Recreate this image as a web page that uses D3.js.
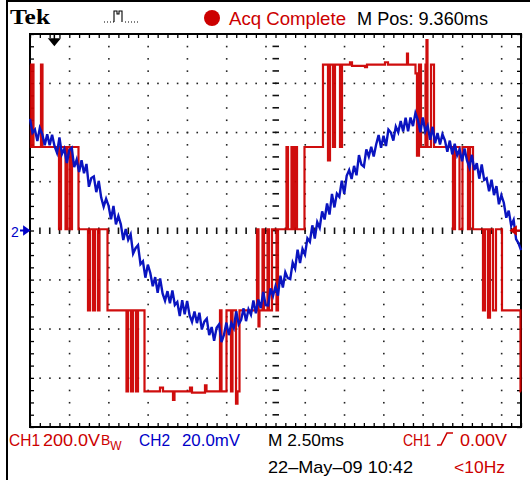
<!DOCTYPE html>
<html><head><meta charset="utf-8">
<script src="https://cdn.jsdelivr.net/npm/d3@7"></script>
<style>body{margin:0;background:#fff}svg{display:block}</style>
</head><body>
<svg id="c" width="532" height="480"></svg>
<script>
// ---------------- data ----------------
const timeDomain = [0, 25];          // ms, 2.50 ms/div, 10 div
const ch1Domain = [-800, 800];       // V, 200 V/div, 8 div
const ch2Domain = [-80, 80];         // mV, 20 mV/div, 8 div

// CH1 (red) multilevel inverter voltage: time (ms) / volts, step-after
const ch1Time = [0,0.051,0.102,0.178,0.560,0.636,1.477,1.578,1.808,1.909,2.037,2.138,2.469,2.953,3.055,3.208,3.310,3.462,3.539,3.946,4.913,4.990,5.143,5.244,5.397,5.499,5.830,6.619,6.772,7.281,7.357,8.147,8.248,8.910,8.987,9.674,9.751,10.005,10.234,10.311,10.489,10.565,10.667,11.558,11.634,11.685,11.838,11.914,12.093,12.169,12.322,12.551,12.627,13.060,13.136,13.314,13.391,13.493,13.595,13.976,14.918,15.173,15.275,15.427,15.529,15.784,15.886,16.293,16.395,17.057,17.159,18.075,18.228,19.195,19.246,19.628,19.704,19.806,19.908,20.137,20.188,20.239,20.417,20.570,21.537,21.639,21.868,22.021,22.301,22.403,22.556,23.065,23.167,23.320,23.422,23.575,23.727,24.032,24.974,25.0];
const ch1Volts = [675,340,675,340,675,340,5,340,5,340,5,340,5,-325,5,-325,5,-325,5,-325,-655,-325,-655,-325,-655,-325,-655,-640,-655,-690,-655,-640,-660,-630,-655,-325,-655,-325,-655,-325,-705,-655,-325,5,-390,-325,5,-325,5,-325,5,-325,5,340,5,340,5,340,5,340,675,285,675,340,675,340,675,685,670,665,675,685,675,720,675,640,305,675,340,675,775,340,675,340,5,340,5,340,5,340,5,-325,5,-355,5,-325,5,-325,-655,-655];

// CH2 (blue) current probe signal, mV, one sample every 0.125 ms
const ch2SampleMs = 0.125;
const ch2mV = [
45.5,39.8,41.1,36.4, 41.7,39.2,34.7,39.2, 34.7,39.0,34.3,31.6, 37.9,31.1,33.3,27.5,
32.7,33.7,25.8,28.8, 23.8,28.6,23.3,27.1, 17.8,21.4,22.0,15.6, 20.2,13.4,9.7,12.9,
10.1,4.6,10.0,2.5, 5.9,2.5,-3.9,0.6, -3.8,-1.6,-9.4,-7.2, -6,-13.7,-12.5,-19.2,
-13.9,-17.3,-22.7,-19.0, -25.4,-19.5,-25.6,-28.6, -24.7,-29.6,-24.4,-30.3, -29.1,-34.8,-28.4,-34.1,
-28.7,-34.5,-37.2,-33.0, -37.7,-33.5,-40.3,-37.1, -35.9,-42.6,-39.3,-44.9, -39.6,-38.2,-45.4,-42.5,
-37.5,-42.6,-37.7,-39.8, -32.9,-38.2,-36.4,-31.7, -36.9,-32.1,-34.3,-28.5, -33.7,-28.1,-31.6,-25.0,
-30.4,-30.5,-23.6,-26.6, -22.7,-26.5,-18.4,-23.2, -17,-19.4,-19.8,-13.1, -15.5,-7.8,-13.2,-7.5,
-9.8,-3.2,-4.6,2.1, -3.3,3.4,1.1,7.8, 4.5,11.0,6.5,14.9, 9.4,15.0,13.7,20.3,
14.9,22.3,24.6,21.0, 26.3,22.5,30.7,26.8, 26.0,33.0,30.1,34.1, 30.1,35.0,38.9,33.7,
38.6,34.4,41.1,39.9, 36.6,42.3,40.0,44.6, 40.3,45.9,40.4,46.0, 42.5,47.8,45.0,40.0,
46.0,40.3,42.6,36.9, 42.2,35.5,39.7,35.0, 39.2,36.7,32.1,36.6, 31.0,35.3,30.6,32.9,
28.2,33.4,28.5,25.7, 30.8,24.6,27.4,21.1, 26.9,20.6,21.3,16.0, 20.7,14.4,18.1,10.7,
14.4,11.3,5.2,8.1, 2,4.3,-3.5,-5.2, -8
];

const topTexts = ["Tek", "Acq Complete", "M Pos: 9.360ms"];
const bottomTexts = ["CH1", "200.0V", "CH2", "20.0mV", "M 2.50ms", "CH1", "0.00V", "22\u2013May\u201309 10:42", "<10Hz"];

// ---------------- drawing ----------------
const RED = "#cc0000", BLUE = "#0000c8", TRACEBLUE = "#0a14c0";
const svg = d3.select("#c");
const L = 30, R = 521, T = 34, B = 427;
const x = d3.scaleLinear(timeDomain, [L, R]);
const y1 = d3.scaleLinear(ch1Domain, [B, T]);
const y2 = d3.scaleLinear(ch2Domain, [B, T]);
const minorX = x.ticks(50), majorX = x.ticks(10);
const minorY = y2.ticks(40), majorY = y2.ticks(8);
const cx = x(12.5), cy = y2(0);

// outer frame
svg.append("line").attr("x1",7).attr("x2",7).attr("y1",0).attr("y2",480).attr("stroke","#000").attr("stroke-width",2);
svg.append("line").attr("x1",6).attr("x2",530).attr("y1",1).attr("y2",1).attr("stroke","#000").attr("stroke-width",2);

const g = svg.append("g");
// dotted grid
majorX.filter(v => v > 0 && v < 25 && v !== 12.5).forEach(v => {
  g.selectAll(null).data(minorY).enter().append("rect")
    .attr("x", x(v) - 0.5).attr("y", d => y2(d) - 0.5).attr("width", 1.6).attr("height", 1.6).attr("fill", "#222");
});
majorY.filter(v => v > -80 && v < 80 && v !== 0).forEach(v => {
  g.selectAll(null).data(minorX).enter().append("rect")
    .attr("x", d => x(d) - 0.5).attr("y", y2(v) - 0.5).attr("width", 1.6).attr("height", 1.6).attr("fill", "#222");
});
// center cross ticks
g.selectAll(null).data(minorY.filter(d => d > -80 && d < 80)).enter().append("rect")
  .attr("x", cx - 3).attr("y", d => y2(d) - 0.7).attr("width", 6.5).attr("height", 1.6).attr("fill", "#111");
g.selectAll(null).data(minorX.filter(d => d > 0 && d < 25)).enter().append("rect")
  .attr("x", d => x(d) - 0.7).attr("y", cy - 3).attr("width", 1.6).attr("height", 6.5).attr("fill", "#111");

// border ticks via axes
const tk = 4;
svg.append("g").attr("transform", `translate(0,${T})`).call(d3.axisBottom(x).tickValues(minorX).tickSize(tk).tickFormat("")).call(s => s.select(".domain").remove());
svg.append("g").attr("transform", `translate(0,${B})`).call(d3.axisTop(x).tickValues(minorX).tickSize(tk).tickFormat("")).call(s => s.select(".domain").remove());
svg.append("g").attr("transform", `translate(${L},0)`).call(d3.axisRight(y2).tickValues(minorY).tickSize(tk).tickFormat("")).call(s => s.select(".domain").remove());
svg.append("g").attr("transform", `translate(${R},0)`).call(d3.axisLeft(y2).tickValues(minorY).tickSize(tk).tickFormat("")).call(s => s.select(".domain").remove());
svg.selectAll(".tick line").attr("stroke", "#000").attr("stroke-width", 1.3);
svg.append("rect").attr("x", L).attr("y", T).attr("width", R - L).attr("height", B - T)
  .attr("fill", "none").attr("stroke", "#000").attr("stroke-width", 2);

// traces
svg.append("clipPath").attr("id", "clip").append("rect").attr("x", L - 1).attr("y", T).attr("width", R - L + 2).attr("height", B - T);
const red = ch1Time.map((t, i) => [t, ch1Volts[i]]);
const blue = ch2mV.map((v, i) => [i * ch2SampleMs, v]);
svg.append("path").attr("clip-path", "url(#clip)").datum(red)
  .attr("d", d3.line().x(d => x(d[0])).y(d => y1(d[1])).curve(d3.curveStepAfter))
  .attr("fill", "none").attr("stroke", RED).attr("stroke-width", 2.2).attr("stroke-opacity", 0.95);
svg.append("path").attr("clip-path", "url(#clip)").datum(blue)
  .attr("d", d3.line().x(d => x(d[0])).y(d => y2(d[1])))
  .attr("fill", "none").attr("stroke", TRACEBLUE).attr("stroke-width", 2.4).attr("stroke-linejoin", "miter");

// markers
svg.append("text").attr("x", 11).attr("y", cy + 6).attr("fill", BLUE).attr("font-family", "Liberation Sans").attr("font-size", 14).text("2");
svg.append("path").attr("d", `M20,${cy} L28,${cy} M24,${cy - 3.5} L29,${cy} L24,${cy + 3.5} Z`).attr("stroke", BLUE).attr("stroke-width", 1.8).attr("fill", BLUE);
svg.append("path").attr("d", `M${R - 1},${cy} L${R - 9},${cy} M${R - 5},${cy - 3.5} L${R - 10},${cy} L${R - 5},${cy + 3.5} Z`).attr("stroke", RED).attr("stroke-width", 1.8).attr("fill", RED);
// trigger position arrow
const tp = x(1.24);
svg.append("path").attr("d", `M${tp},${T} L${tp},${T + 6} M${tp - 5},${T + 5} L${tp + 5},${T + 5} L${tp},${T + 11} Z`).attr("stroke", "#000").attr("stroke-width", 1.5).attr("fill", "#000");

// top status line
const sans = "Liberation Sans, Arial, sans-serif";
svg.append("text").attr("x", 10).attr("y", 24).attr("font-family", "Liberation Serif, Times New Roman, serif").attr("font-weight", "bold").attr("font-size", 22).attr("textLength", 40).attr("lengthAdjust", "spacingAndGlyphs").text(topTexts[0]);
svg.append("path").attr("d", "M104,22 h1 m2,0 h1 m2,0 h1 m2,0 h1 M114,22 V11 h3 v3 h2 v-3 h3 V22 M125,22 h1 m2,0 h1 m2,0 h1 m2,0 h1 m2,0 h1").attr("stroke", "#000").attr("stroke-width", 1.1).attr("fill", "none");
svg.append("circle").attr("cx", 212).attr("cy", 18).attr("r", 8).attr("fill", RED);
svg.append("text").attr("x", 229).attr("y", 25).attr("font-family", sans).attr("font-size", 18).attr("fill", RED).attr("textLength", 117).attr("lengthAdjust", "spacingAndGlyphs").text(topTexts[1]);
svg.append("text").attr("x", 357).attr("y", 25).attr("font-family", sans).attr("font-size", 18).attr("fill", "#000").attr("textLength", 131).attr("lengthAdjust", "spacingAndGlyphs").text(topTexts[2]);

// bottom status lines
const bt = (s, xx, yy, w, col) => svg.append("text").attr("x", xx).attr("y", yy).attr("font-family", sans).attr("font-size", 17)
  .attr("fill", col).attr("textLength", w).attr("lengthAdjust", "spacingAndGlyphs").text(s);
bt(bottomTexts[0], 9, 446, 31, RED);
bt(bottomTexts[1], 43, 446, 57, RED);
const bw = svg.append("text").attr("x", 101).attr("y", 445).attr("font-family", sans).attr("font-size", 14).attr("fill", RED);
bw.append("tspan").text("B");
bw.append("tspan").attr("dx", 0).attr("dy", 5).attr("font-size", 12).text("W");
bt(bottomTexts[2], 139, 446, 31, BLUE);
bt(bottomTexts[3], 182, 446, 58, BLUE);
bt(bottomTexts[4], 268, 446, 76, "#000");
bt(bottomTexts[5], 403, 446, 28, RED);
svg.append("path").attr("d", "M437,445 H441 L447,433 H453").attr("stroke", RED).attr("stroke-width", 1.6).attr("fill", "none");
bt(bottomTexts[6], 460, 446, 47, RED);
bt(bottomTexts[7], 268, 473, 145, "#000");
bt(bottomTexts[8], 454, 473, 51, RED);
</script>
</body></html>
